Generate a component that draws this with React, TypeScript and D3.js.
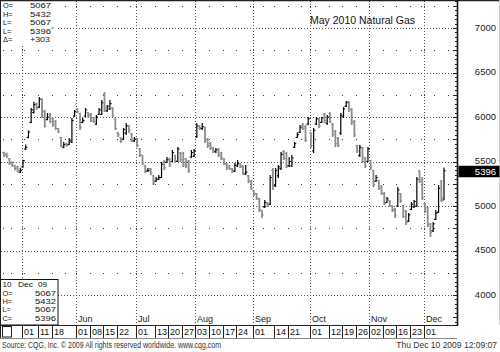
import React from "react";
import * as d3 from "d3";

const HOLIDAYS = ["2009-05-25", "2009-07-03", "2009-09-07", "2009-11-26"];
const FIRST_DAY = new Date(2009, 3, 22);
const FUTURE_DAYS = 5;

const opens = [5600,5580,5530,5490,5450,5440,5380,5440,5640,5770,5940,6050,6150,6110,6200,6060,5970,6030,5980,5950,5870,5770,5660,5700,5690,5720,6010,6090,6040,5940,6010,6050,6030,5990,5920,6030,6030,6250,6070,6090,6100,5980,5820,5770,5750,5820,5900,5810,5730,5760,5640,5570,5450,5390,5420,5340,5280,5300,5320,5500,5490,5530,5500,5570,5500,5600,5590,5530,5500,5550,5560,5780,5900,5870,5880,5750,5700,5650,5610,5640,5600,5530,5470,5450,5420,5390,5450,5470,5450,5360,5340,5280,5170,5140,5080,4950,4990,5030,5020,5400,5230,5340,5420,5610,5590,5450,5450,5660,5770,5830,5900,5890,5920,5820,5620,5920,5970,5940,6030,5930,6040,5920,5840,5760,5820,6000,6120,6170,6090,5950,5680,5570,5650,5540,5500,5510,5400,5280,5290,5220,5140,5040,5060,5000,4960,5000,5140,5000,4940,4830,4960,4990,5000,5390,5300,5030,4980,4800,4720,4850,4930,5270,5067];
const highs = [5610,5600,5540,5500,5460,5450,5430,5520,5690,5850,6100,6170,6160,6225,6210,6080,6045,6045,5990,5966,5876,5775,5720,5708,5764,5990,6080,6100,6045,5990,6100,6056,6045,6000,6022,6100,6190,6280,6135,6190,6110,5990,5830,5775,5876,5933,5910,5820,5775,5764,5652,5573,5461,5427,5427,5348,5326,5348,5494,5517,5551,5540,5629,5573,5663,5607,5607,5540,5517,5629,5640,5933,5910,5933,5890,5764,5720,5663,5652,5652,5607,5540,5483,5461,5427,5483,5517,5483,5461,5461,5348,5292,5180,5146,5090,4955,5067,5045,5348,5427,5427,5461,5607,5629,5607,5551,5573,5720,5830,5910,5933,5910,6000,5830,5876,6000,5989,6000,6045,6022,6056,5933,5854,5775,6045,6112,6180,6180,6100,5966,5685,5685,5663,5551,5663,5517,5404,5348,5292,5236,5157,5101,5067,5011,4978,5213,5146,5011,4955,4921,5045,5067,5326,5404,5326,5034,4989,4809,4820,4955,5236,5292,5432];
const lows = [5550,5540,5460,5440,5400,5380,5370,5430,5630,5760,5930,6040,6080,6100,5990,5880,5965,5930,5890,5854,5820,5660,5650,5665,5685,5708,6000,6045,5855,5933,6000,5990,5945,5933,5910,6022,6022,6056,6056,6079,6000,5854,5775,5708,5742,5798,5820,5720,5720,5660,5551,5461,5371,5382,5348,5236,5270,5292,5315,5404,5483,5438,5494,5483,5494,5494,5438,5427,5371,5540,5551,5764,5854,5854,5708,5652,5629,5596,5596,5551,5517,5461,5404,5404,5371,5382,5438,5427,5348,5348,5258,5180,5113,5067,4932,4865,4978,4989,5011,5180,5213,5315,5404,5517,5427,5438,5438,5652,5764,5820,5854,5720,5910,5652,5596,5910,5876,5933,5933,5910,5933,5775,5663,5663,5798,5989,6112,6056,5910,5775,5596,5551,5483,5427,5494,5404,5213,5270,5180,5124,5011,5034,4989,4932,4865,4989,5034,4865,4787,4820,4955,4978,4989,5258,5067,4921,4764,4652,4708,4843,4921,5045,5067];
const closes = [5570,5560,5480,5460,5420,5400,5400,5510,5660,5830,6080,6140,6100,6200,6020,5900,6000,5950,5920,5870,5830,5680,5690,5680,5740,5960,6060,6060,5880,5960,6080,6010,5960,5950,6000,6080,6160,6100,6120,6150,6020,5870,5800,5730,5860,5900,5850,5740,5750,5680,5570,5480,5400,5400,5370,5260,5300,5320,5470,5430,5520,5460,5600,5510,5640,5520,5460,5450,5400,5600,5620,5900,5880,5890,5740,5680,5650,5620,5630,5570,5540,5480,5430,5420,5400,5460,5480,5440,5370,5380,5280,5200,5130,5090,4960,4900,5040,5000,5320,5220,5400,5440,5580,5540,5450,5500,5540,5700,5800,5880,5870,5740,5980,5680,5850,5980,5900,5990,5960,6000,5950,5800,5700,5680,6020,6090,6160,6080,5940,5800,5620,5660,5500,5450,5640,5430,5240,5320,5200,5140,5030,5080,5000,4950,4890,5180,5060,4880,4810,4900,5020,5050,5300,5280,5090,4940,4790,4700,4800,4920,5200,5093,5396];

const priceLabels = [4000, 4500, 5000, 5500, 6000, 6500, 7000];
const title = "May 2010 Natural Gas";
const infoTopLabels = ["O=", "H=", "L=", "L=", "\u0394="];
const infoTopValues = ["5067", "5432", "5067", "5396", "+303"];
const infoBottomDate = ["10", "Dec", "09"];
const infoBottomLabels = ["O=", "H=", "L=", "C="];
const infoBottomValues = ["5067", "5432", "5067", "5396"];
const lastPrice = 5396;
const sourceText = "Source: CQG, Inc. \u00a9 2009 All rights reserved worldwide. www.cqg.com";
const stampText = "Thu Dec 10 2009 12:09:07";

const FONT = "'Liberation Sans', Arial, Helvetica, sans-serif";
const W = 500, H = 352;
const PLOT_R = 457, PLOT_B = 325, ROW_B = 338;
const BOX_R = 58;
const INFO_FS = 7.4;

const fmtKey = d3.timeFormat("%Y-%m-%d");
const fmtDay = d3.timeFormat("%d");
const fmtMon = d3.timeFormat("%b");

function tradingDates(n: number): Date[] {
  const out: Date[] = [];
  let t = FIRST_DAY;
  while (out.length < n) {
    const dow = t.getDay();
    if (dow !== 0 && dow !== 6 && !HOLIDAYS.includes(fmtKey(t))) out.push(t);
    t = d3.timeDay.offset(t, 1);
  }
  return out;
}

export default function App() {
  const n = closes.length;
  const dates = tradingDates(n + FUTURE_DAYS);
  const x = d3.scaleLinear().domain([0, n - 1]).range([4, 444]);
  const y = d3.scaleLinear().domain([4000, 7000]).range([295, 28]);
  const half = (x(1) - x(0)) / 2;

  const monthStarts: number[] = [];
  const weekStarts: number[] = [];
  dates.forEach((d, i) => {
    if (i === 0) return;
    const p = dates[i - 1];
    if (d.getMonth() !== p.getMonth()) monthStarts.push(i);
    else if (+d3.timeMonday.floor(d) !== +d3.timeMonday.floor(p)) weekStarts.push(i);
  });
  if (dates.length) weekStarts.unshift(0);

  const labelIdx: number[] = [];
  const allTicks = [...monthStarts, ...weekStarts].sort((a, b) => a - b).filter(i => i >= monthStarts[0] && i < n);
  let last = -100;
  allTicks.forEach(i => {
    const isMonth = monthStarts.includes(i);
    const nextMonth = monthStarts.find(m => m > i);
    if (isMonth || (i - last >= 5 && (nextMonth === undefined || nextMonth - i >= 5))) {
      labelIdx.push(i);
      last = i;
    }
  });

  const majorLevels = priceLabels;
  const minorLevels = d3.range(4250, 7500, 500);
  const tickLevels = d3.range(3700, 7350, 50).filter(v => y(v) >= 0 && y(v) <= PLOT_B);
  const gx = (i: number) => Math.round(x(i) - half);

  return (
    <div style={{ position: "absolute", left: 0, top: 0 }}>
      <svg width={W} height={H} style={{ display: "block", background: "#fff" }} fontFamily={FONT}>
        <rect x={0} y={0} width={W} height={H} fill="#fff" />
        {majorLevels.map(v => (
          <line key={"h" + v} x1={1} x2={PLOT_R} y1={Math.round(y(v)) + 0.5} y2={Math.round(y(v)) + 0.5}
            stroke="#555" strokeWidth={1} strokeDasharray="1,2" />
        ))}
        {monthStarts.map(i => (
          <line key={"v" + i} x1={gx(i) + 0.5} x2={gx(i) + 0.5} y1={1} y2={PLOT_B}
            stroke="#555" strokeWidth={1} strokeDasharray="1,2" />
        ))}
        {[...weekStarts, ...monthStarts].filter(i => gx(i) < PLOT_R - 2).map(i =>
          minorLevels.map(v => (
            <rect key={"d" + i + "_" + v} x={gx(i)} y={Math.round(y(v))} width={1} height={1} fill="#333" />
          ))
        )}

        {closes.map((c, i) => {
          const up = c >= opens[i];
          const col = up ? "#000" : "#8c8c8c";
          const sw = up ? 1.2 : 1.8;
          const cx = x(i);
          return (
            <g key={"b" + i} stroke={col}>
              <line x1={cx} x2={cx} y1={y(highs[i])} y2={y(lows[i])} strokeWidth={sw} />
              <line x1={cx - 1.7} x2={cx} y1={y(opens[i])} y2={y(opens[i])} strokeWidth={1.1} />
              <line x1={cx} x2={cx + 1.7} y1={y(c)} y2={y(c)} strokeWidth={1.1} />
            </g>
          );
        })}

        {monthStarts.filter(i => i < n && gx(i) > BOX_R).map(i => (
          <text key={"ml" + i} x={gx(i) + 2} y={PLOT_B - 3} fontSize={9} fill="#222">
            {fmtMon(dates[i])}
          </text>
        ))}

        <rect x={1} y={1} width={56} height={44} fill="#fff" />
        {infoTopLabels.map((l, k) => (
          <g key={"it" + k}>
            <text x={3} y={8 + k * 8.5} fontSize={INFO_FS} fill="#111">{l}</text>
            <text x={30} y={8 + k * 8.5} fontSize={INFO_FS} fill="#111" textLength={k === 4 ? 20 : 21} lengthAdjust="spacingAndGlyphs">
              {infoTopValues[k]}
            </text>
            {k === 3 ? <text x={51.5} y={5 + k * 8.5} fontSize={5} fill="#111">^</text> : null}
          </g>
        ))}

        <text x={310} y={24} fontSize={10.5} fill="#111">{title}</text>

        <rect x={0.5} y={279.5} width={BOX_R - 0.5} height={PLOT_B - 279.5} fill="#fff" stroke="#111" strokeWidth={1} />
        <text x={2.5} y={287} fontSize={INFO_FS} fill="#111" textLength={9} lengthAdjust="spacingAndGlyphs">{infoBottomDate[0]}</text>
        <text x={18} y={287} fontSize={INFO_FS} fill="#111" textLength={15} lengthAdjust="spacingAndGlyphs">{infoBottomDate[1]}</text>
        <text x={38} y={287} fontSize={INFO_FS} fill="#111" textLength={9} lengthAdjust="spacingAndGlyphs">{infoBottomDate[2]}</text>
        {infoBottomLabels.map((l, k) => (
          <g key={"ib" + k}>
            <text x={2.5} y={295.5 + k * 8.4} fontSize={INFO_FS} fill="#111">{l}</text>
            <text x={35} y={295.5 + k * 8.4} fontSize={INFO_FS} fill="#111" textLength={21} lengthAdjust="spacingAndGlyphs">{infoBottomValues[k]}</text>
          </g>
        ))}

        <line x1={0} x2={W} y1={0.5} y2={0.5} stroke="#222" strokeWidth={1.5} />
        <line x1={0.5} x2={0.5} y1={0} y2={ROW_B} stroke="#222" strokeWidth={1} />
        <line x1={0} x2={PLOT_R} y1={PLOT_B + 0.5} y2={PLOT_B + 0.5} stroke="#222" strokeWidth={1} />
        <line x1={0} x2={PLOT_R} y1={ROW_B + 0.5} y2={ROW_B + 0.5} stroke="#888" strokeWidth={1} />
        <line x1={PLOT_R + 0.5} x2={PLOT_R + 0.5} y1={0} y2={PLOT_B + 1} stroke="#111" strokeWidth={1.6} />
        <line x1={W - 0.5} x2={W - 0.5} y1={0} y2={PLOT_B} stroke="#ccc" strokeWidth={1} />

        {tickLevels.map(v => {
          const isMajor = v % 250 === 0;
          return (
            <line key={"t" + v} x1={PLOT_R - (isMajor ? 4 : 2)} x2={PLOT_R} y1={Math.round(y(v)) + 0.5} y2={Math.round(y(v)) + 0.5}
              stroke="#222" strokeWidth={1} />
          );
        })}
        {priceLabels.map(v => (
          <text key={"pl" + v} x={496} y={y(v) + 2.8} fontSize={9.5} fill="#222" textAnchor="end">{v}</text>
        ))}
        <rect x={PLOT_R + 1.5} y={y(lastPrice) - 5} width={W - PLOT_R - 2} height={11.5} fill="#000" />
        <text x={496} y={y(lastPrice) + 4.3} fontSize={9.5} fill="#fff" textAnchor="end">{lastPrice}</text>

        <rect x={2.5} y={PLOT_B + 1.5} width={9} height={ROW_B - PLOT_B - 2.5} fill="none" stroke="#222" strokeWidth={1} />
        {labelIdx.map(i => {
          const tx = gx(i) + 0.5;
          return (
            <g key={"dl" + i}>
              <line x1={tx} x2={tx} y1={PLOT_B + 1} y2={ROW_B} stroke="#222" strokeWidth={1} />
              <text x={tx + 1.5} y={PLOT_B + 10} fontSize={9} fill="#111">{fmtDay(dates[i])}</text>
            </g>
          );
        })}

        <text x={2} y={348} fontSize={8.5} fill="#333" textLength={219} lengthAdjust="spacingAndGlyphs">{sourceText}</text>
        <text x={497} y={348} fontSize={8.5} fill="#333" textAnchor="end">{stampText}</text>
      </svg>
    </div>
  );
}
